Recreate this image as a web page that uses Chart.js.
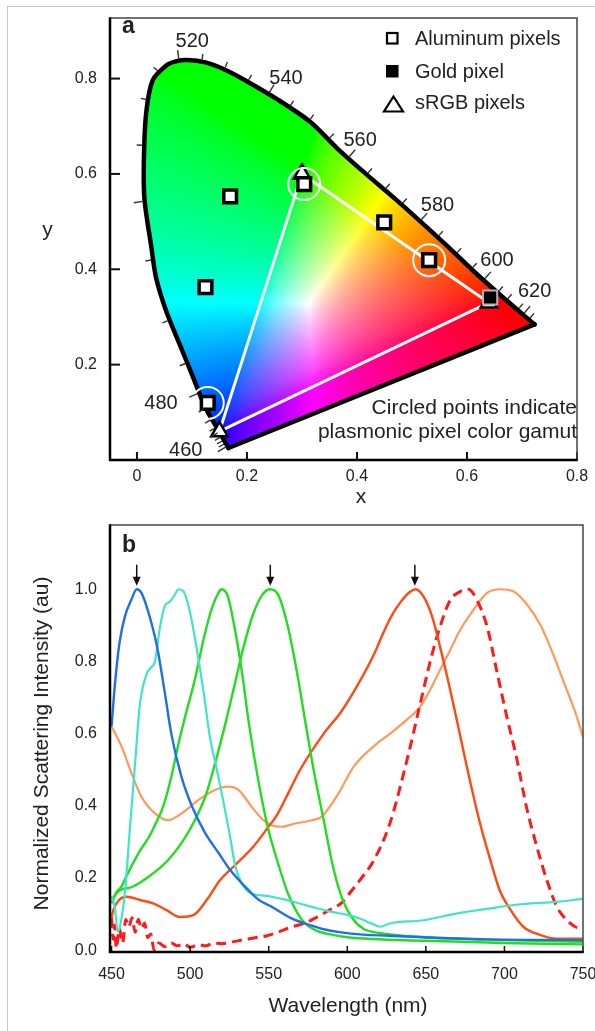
<!DOCTYPE html>
<html>
<head>
<meta charset="utf-8">
<script src="https://cdn.jsdelivr.net/npm/chart.js@4.4.1/dist/chart.umd.min.js"></script>
<style>
  html, body { margin: 0; padding: 0; background: #fff; }
  #wrap { position: relative; width: 595px; height: 1031px; overflow: hidden; }
  #frame { position: absolute; left: 7px; top: 6px; width: 700px; height: 1100px;
           border-left: 1px solid #c8c8c8; border-top: 1px solid #c8c8c8; }
  canvas { position: absolute; left: 0; }
  #cie { top: 0; }
  #spec { top: 512px; }
</style>
</head>
<body>
<div id="wrap">
  <div id="frame"></div>
  <canvas id="cie" width="595" height="512" style="width:595px;height:512px"></canvas>
  <canvas id="spec" width="595" height="519" style="width:595px;height:519px"></canvas>
</div>
<script>
// ---------- panel a : chromaticity diagram ----------
const locusX = [0.1664, 0.1484, 0.1246, 0.1005, 0.0766, 0.0528, 0.0348, 0.0258, 0.0138, 0.0126, 0.0169, 0.0287, 0.0528, 0.0707,
                0.0915, 0.1246, 0.1592, 0.1964, 0.2561, 0.3154, 0.3639, 0.4177, 0.4716, 0.5667, 0.6092, 0.6631, 0.7229];
const locusY = [0.0251, 0.0618, 0.1094, 0.1782, 0.2455, 0.3135, 0.3822, 0.4496, 0.5455, 0.6271, 0.7292, 0.7965, 0.8271, 0.8359,
                0.8388, 0.8339, 0.8190, 0.7965, 0.7557, 0.7088, 0.6537, 0.5986, 0.5455, 0.4460, 0.3990, 0.3435, 0.2843];

// small wavelength ticks along the locus
const locusTickNm = [440, 445, 450, 455, 460, 465, 470, 475, 480, 485, 490, 495, 500, 505, 510, 515, 520, 525, 530,
                     535, 540, 545, 550, 555, 560, 565, 570, 575, 580, 585, 590, 595, 600, 605, 610, 615, 620, 625];
const locusTickX = [0.1646, 0.1610, 0.1574, 0.1529, 0.1484, 0.1430, 0.1341, 0.1215, 0.1108, 0.0928, 0.0695, 0.0354, 0.0174,
                    0.0138, 0.0192, 0.0407, 0.0766, 0.1179, 0.1592, 0.2005, 0.2382, 0.2741, 0.3082, 0.3441, 0.3818, 0.4159,
                    0.4482, 0.4787, 0.5128, 0.5434, 0.5721, 0.6008, 0.6260, 0.6511, 0.6690, 0.6906, 0.7014, 0.7121];
const locusTickY = [0.0292, 0.0353, 0.0414, 0.0486, 0.0578, 0.0680, 0.0843, 0.1067, 0.1394, 0.2047, 0.2986, 0.4210, 0.5435,
                    0.6598, 0.7557, 0.8129, 0.8353, 0.8353, 0.8190, 0.7925, 0.7659, 0.7353, 0.7027, 0.6680, 0.6312, 0.5965,
                    0.5639, 0.5333, 0.4986, 0.4639, 0.4231, 0.3924, 0.3720, 0.3455, 0.3312, 0.3129, 0.3047, 0.2945];

const aluminumX = [0.1694, 0.1246, 0.1287, 0.3041, 0.4495, 0.5313];
const aluminumY = [0.5531, 0.3624, 0.1196, 0.5788, 0.4986, 0.4190];
const circledX = [0.1287, 0.3041, 0.5313];
const circledY = [0.1196, 0.5788, 0.4190];
const goldX = [0.6421];
const goldY = [0.3408];
const srgbX = [0.64, 0.30, 0.15];
const srgbY = [0.33, 0.60, 0.06];

const cieXTicks = [0, 0.2, 0.4, 0.6, 0.8];
const cieYTicks = [0.2, 0.4, 0.6, 0.8];

// ---------- panel b : scattering spectra ----------
const wlTicks = [450, 500, 550, 600, 650, 700, 750];
const intensityTicks = [0, 0.2, 0.4, 0.6, 0.8, 1.0];

const blueNm = [450, 452, 455, 458.5, 462.5, 466, 469, 473.5, 479, 484, 488, 494.5, 501, 509.5, 518, 525.5, 535, 543.5, 552,
                564.5, 577.5, 585, 595, 610, 627, 650, 690, 750];
const blueI = [0.62, 0.73, 0.85, 0.925, 0.97, 1.0, 0.99, 0.935, 0.84, 0.71, 0.60, 0.48, 0.40, 0.325, 0.27, 0.222, 0.176, 0.14,
               0.12, 0.088, 0.068, 0.058, 0.05, 0.043, 0.04, 0.035, 0.03, 0.028];

const cyanNm = [450, 452, 454, 456, 458.5, 461.7, 465, 468, 472.3, 475.5, 477.6, 480.8, 484, 487, 490.3, 492.5, 495.6, 500, 504,
                508.4, 512.6, 517, 521, 525.4, 528.6, 532.8, 539, 545.5, 552, 560.4, 569, 577.4, 590, 600, 608, 615, 621, 627,
                648.5, 670, 691, 712, 733, 744, 750];
const cyanI = [0.15, 0.12, 0.05, 0.08, 0.16, 0.34, 0.52, 0.68, 0.765, 0.785, 0.80, 0.895, 0.955, 0.965, 0.985, 1.0, 0.995, 0.935,
               0.84, 0.72, 0.59, 0.50, 0.415, 0.315, 0.235, 0.185, 0.157, 0.152, 0.148, 0.14, 0.13, 0.12, 0.106, 0.098, 0.088,
               0.075, 0.065, 0.074, 0.083, 0.102, 0.116, 0.128, 0.134, 0.139, 0.143];

const green1Nm = [450, 453, 456, 460, 468, 474, 478, 483, 488, 493, 497, 503, 509, 514, 518, 520, 524, 528, 533, 537, 541, 546,
                  550, 556, 562, 568, 573, 580, 590, 600, 650, 700, 750];
const green1I = [0.13, 0.16, 0.175, 0.21, 0.275, 0.315, 0.35, 0.40, 0.48, 0.58, 0.65, 0.75, 0.87, 0.95, 0.99, 1.0, 0.98, 0.90,
                 0.77, 0.64, 0.53, 0.41, 0.33, 0.24, 0.16, 0.105, 0.075, 0.055, 0.043, 0.036, 0.026, 0.02, 0.016];

const green2Nm = [450, 455, 463, 474, 485, 495, 503, 510, 516, 522, 528, 534, 540, 546, 551, 556, 562, 568, 573, 579, 585, 591,
                  597, 603, 610, 620, 650, 700, 750];
const green2I = [0.14, 0.165, 0.175, 0.205, 0.245, 0.30, 0.36, 0.43, 0.52, 0.62, 0.73, 0.84, 0.93, 0.985, 1.0, 0.985, 0.90,
                 0.77, 0.64, 0.49, 0.36, 0.23, 0.14, 0.09, 0.06, 0.048, 0.036, 0.028, 0.023];

const redNm = [450, 451, 455, 459.5, 468, 476.5, 485, 493.5, 502, 510.5, 519, 527.5, 540, 549, 556, 563, 570, 585, 596, 606,
               617, 623, 628, 634, 640, 643.5, 648.5, 654, 659, 665.5, 672, 678, 684.5, 691, 697, 704, 712, 723, 733, 750];
const redI = [0.09, 0.11, 0.14, 0.148, 0.139, 0.13, 0.111, 0.092, 0.097, 0.139, 0.194, 0.231, 0.286, 0.337, 0.38, 0.44, 0.50,
              0.60, 0.66, 0.73, 0.82, 0.88, 0.925, 0.965, 0.993, 1.0, 0.98, 0.924, 0.841, 0.721, 0.591, 0.471, 0.351, 0.25,
              0.166, 0.111, 0.065, 0.042, 0.032, 0.032];

const dashNm = [450, 451, 452, 453, 455, 457, 459, 461, 463, 465, 467, 469, 471, 473, 475, 477, 480, 484, 488, 492, 496, 500,
                505, 510, 515, 520, 527, 535, 542, 549, 556, 565, 573, 580, 590, 596, 603, 608, 617, 627, 638, 646, 653, 659,
                665.5, 672, 677, 682.5, 689, 695, 701.5, 708, 714, 720.6, 727, 733.4, 739.8, 745, 750];
const dashI = [0.09, 0.03, 0.07, 0.005, 0.06, 0.02, 0.085, 0.065, 0.09, 0.05, 0.085, 0.06, 0.075, 0.035, 0.045, 0.0, 0.02,
               0.01, 0.02, 0.012, 0.018, 0.008, 0.015, 0.012, 0.02, 0.018, 0.023, 0.03, 0.035, 0.04, 0.05, 0.065, 0.075, 0.09,
               0.115, 0.13, 0.166, 0.194, 0.25, 0.35, 0.527, 0.675, 0.804, 0.896, 0.97, 0.994, 1.0, 0.97, 0.896, 0.776, 0.647,
               0.527, 0.397, 0.287, 0.194, 0.12, 0.083, 0.065, 0.06];

const orangeNm = [450, 456.4, 462.7, 469, 477.6, 486, 494.6, 505.2, 515.8, 524.3, 530.7, 539.2, 545.5, 551.9, 558.3, 566.8,
                  577.4, 583.7, 594.4, 604, 616.6, 627.2, 637.8, 646.4, 652.7, 659, 665.5, 671.8, 680.3, 688.8, 697.3,
                  705.8, 714, 723, 731, 738, 745, 750];
const orangeI = [0.62, 0.564, 0.49, 0.425, 0.379, 0.36, 0.379, 0.416, 0.444, 0.453, 0.444, 0.397, 0.365, 0.346, 0.342, 0.351,
                 0.36, 0.37, 0.434, 0.508, 0.564, 0.60, 0.638, 0.675, 0.721, 0.776, 0.832, 0.887, 0.943, 0.989, 1.0, 0.994,
                 0.96, 0.90, 0.82, 0.74, 0.66, 0.59];

const arrowNm = [466, 551, 643];

// ---------- shared bits ----------
const FONT = "'Liberation Sans', Arial, Helvetica, sans-serif";
const INK = '#222';
Chart.defaults.font.family = FONT;
Chart.defaults.color = INK;

const pts = (xs, ys) => xs.map((v, i) => ({ x: v, y: ys[i] }));

function text(ctx, s, x, y, size, align, base, bold) {
  ctx.save();
  ctx.font = (bold ? 'bold ' : '') + size + 'px ' + FONT;
  ctx.fillStyle = INK;
  ctx.textAlign = align || 'center';
  ctx.textBaseline = base || 'middle';
  ctx.fillText(s, x, y);
  ctx.restore();
}

// frame: thick left/bottom axes, thin top/right border, inward tick marks
function framePlugin(xTick, yTick) {
  return {
    id: 'frame',
    afterDraw(chart) {
      const { ctx, chartArea: a, scales } = chart;
      ctx.save();
      ctx.strokeStyle = '#111';
      if (xTick) {
        ctx.lineWidth = xTick.w;
        scales.x.ticks.forEach(t => {
          const px = scales.x.getPixelForValue(t.value);
          ctx.beginPath(); ctx.moveTo(px, a.bottom); ctx.lineTo(px, a.bottom - xTick.len); ctx.stroke();
        });
      }
      if (yTick) {
        ctx.lineWidth = yTick.w;
        scales.y.ticks.forEach(t => {
          const py = scales.y.getPixelForValue(t.value);
          ctx.beginPath(); ctx.moveTo(a.left, py); ctx.lineTo(a.left + yTick.len, py); ctx.stroke();
        });
      }
      ctx.strokeStyle = '#444';
      ctx.lineWidth = 1.5;
      ctx.beginPath();
      ctx.moveTo(a.left, a.top); ctx.lineTo(a.right, a.top); ctx.lineTo(a.right, a.bottom);
      ctx.stroke();
      ctx.strokeStyle = '#000';
      ctx.lineWidth = 2.5;
      ctx.beginPath();
      ctx.moveTo(a.left, a.top - 0.75); ctx.lineTo(a.left, a.bottom); ctx.lineTo(a.right + 0.75, a.bottom);
      ctx.stroke();
      ctx.restore();
    }
  };
}

// ---------- panel a ----------
function chromaColor(cx, cy) {
  cy = Math.max(cy, 0.002);
  const X = cx / cy, Z = (1 - cx - cy) / cy;
  let r = 3.2406 * X - 1.5372 - 0.4986 * Z;
  let g = -0.9689 * X + 1.8758 + 0.0415 * Z;
  let b = 0.0557 * X - 0.2040 + 1.0570 * Z;
  r = Math.max(r, 0); g = Math.max(g, 0); b = Math.max(b, 0);
  const m = Math.max(r, g, b) || 1;
  return [r / m, g / m, b / m].map(c => Math.round(255 * Math.pow(c, 1 / 1.6)));
}

const LOCUS = 5;
let fillCache = null;

const cieFill = {
  id: 'cieFill',
  beforeDatasetsDraw(chart) {
    const { ctx, chartArea: a, scales: { x, y } } = chart;
    if (!fillCache) {
      const w = Math.ceil(a.right - a.left), h = Math.ceil(a.bottom - a.top);
      fillCache = document.createElement('canvas');
      fillCache.width = w; fillCache.height = h;
      const octx = fillCache.getContext('2d');
      const img = octx.createImageData(w, h);
      for (let j = 0; j < h; j++) {
        const cy = y.getValueForPixel(a.top + j + 0.5);
        for (let i = 0; i < w; i++) {
          const cx = x.getValueForPixel(a.left + i + 0.5);
          const c = chromaColor(cx, cy);
          const k = (j * w + i) * 4;
          img.data[k] = c[0]; img.data[k + 1] = c[1]; img.data[k + 2] = c[2]; img.data[k + 3] = 255;
        }
      }
      octx.putImageData(img, 0, 0);
    }
    const line = chart.getDatasetMeta(LOCUS).dataset;
    ctx.save();
    ctx.beginPath();
    try {
      line.path(ctx);
    } catch (e) {
      locusX.forEach((v, i) => {
        const px = x.getPixelForValue(v), py = y.getPixelForValue(locusY[i]);
        i ? ctx.lineTo(px, py) : ctx.moveTo(px, py);
      });
    }
    ctx.closePath();
    ctx.clip();
    ctx.drawImage(fillCache, a.left, a.top);
    ctx.restore();
  }
};

const cieDecor = {
  id: 'cieDecor',
  afterDraw(chart) {
    const { ctx, scales: { x, y } } = chart;
    // wavelength ticks, pushed outward from the locus outline
    const P = locusX.map((v, i) => [x.getPixelForValue(v), y.getPixelForValue(locusY[i])]);
    const cx0 = x.getPixelForValue(0.33), cy0 = y.getPixelForValue(0.33);
    ctx.save();
    ctx.strokeStyle = '#333';
    ctx.lineWidth = 1.4;
    locusTickNm.forEach((nm, k) => {
      const tx = x.getPixelForValue(locusTickX[k]), ty = y.getPixelForValue(locusTickY[k]);
      let best = null;
      for (let i = 0; i < P.length - 1; i++) {
        const [ax, ay] = P[i], [bx, by] = P[i + 1];
        const dx = bx - ax, dy = by - ay, L2 = dx * dx + dy * dy;
        let t = ((tx - ax) * dx + (ty - ay) * dy) / L2;
        t = Math.max(0, Math.min(1, t));
        const qx = ax + t * dx, qy = ay + t * dy;
        const d = (qx - tx) ** 2 + (qy - ty) ** 2;
        if (!best || d < best.d) best = { d, qx, qy, dx, dy };
      }
      const L = Math.hypot(best.dx, best.dy);
      let nx = -best.dy / L, ny = best.dx / L;
      if ((best.qx - cx0) * nx + (best.qy - cy0) * ny < 0) { nx = -nx; ny = -ny; }
      const len = nm % 20 === 0 ? 9 : 6;
      ctx.beginPath();
      ctx.moveTo(best.qx + nx * 2, best.qy + ny * 2);
      ctx.lineTo(best.qx + nx * (2 + len), best.qy + ny * (2 + len));
      ctx.stroke();
    });
    ctx.restore();

    // wavelength labels
    [['520', 0.1005, 0.8767], ['540', 0.2710, 0.8000], ['560', 0.4057, 0.6706], ['580', 0.5464, 0.5347],
     ['600', 0.6546, 0.4190], ['620', 0.7229, 0.3537], ['480', 0.0438, 0.1176], ['460', 0.0887, 0.0196]]
      .forEach(([s, vx, vy]) => text(ctx, s, x.getPixelForValue(vx), y.getPixelForValue(vy), 20));

    // legend
    ctx.save();
    ctx.strokeStyle = '#000';
    ctx.lineWidth = 2.2;
    ctx.fillStyle = '#fff';
    ctx.fillRect(387, 33, 10.5, 10.5); ctx.strokeRect(387, 33, 10.5, 10.5);
    ctx.fillStyle = '#000';
    ctx.fillRect(386, 65, 12.5, 12.5);
    ctx.beginPath(); ctx.moveTo(393.5, 96.5); ctx.lineTo(403, 111.5); ctx.lineTo(384, 111.5); ctx.closePath();
    ctx.fillStyle = '#fff'; ctx.fill(); ctx.stroke();
    ctx.restore();
    text(ctx, 'Aluminum pixels', 415, 45, 20, 'left', 'alphabetic');
    text(ctx, 'Gold pixel', 415, 78, 20, 'left', 'alphabetic');
    text(ctx, 'sRGB pixels', 415, 108.5, 20, 'left', 'alphabetic');

    text(ctx, 'Circled points indicate', 577, 414, 21, 'right', 'alphabetic');
    text(ctx, 'plasmonic pixel color gamut', 577, 437.5, 21, 'right', 'alphabetic');

    text(ctx, 'a', 122, 33, 23, 'left', 'alphabetic', true);
    text(ctx, 'y', 47.5, 230, 21);
    text(ctx, 'x', 361, 497, 21);
  }
};

new Chart(document.getElementById('cie'), {
  type: 'scatter',
  data: {
    datasets: [
      { data: pts(circledX, circledY), order: 0, pointStyle: 'circle', pointRadius: 16,
        pointBackgroundColor: 'rgba(0,0,0,0)', pointBorderColor: '#fff', pointBorderWidth: 2 },
      { data: pts(goldX, goldY), order: 1, pointStyle: 'rect', pointRadius: 10,
        pointBackgroundColor: '#000', pointBorderColor: '#b4b4b4', pointBorderWidth: 2 },
      { data: pts(aluminumX, aluminumY), order: 2, pointStyle: 'rect', pointRadius: 9,
        pointBackgroundColor: '#fff', pointBorderColor: '#000', pointBorderWidth: 3.5 },
      { data: pts(srgbX, srgbY), order: 3, pointStyle: 'triangle', pointRadius: 9.5,
        pointBackgroundColor: '#fff', pointBorderColor: '#000', pointBorderWidth: 2.5 },
      { data: pts(srgbX.concat(srgbX[0]), srgbY.concat(srgbY[0])), order: 4, showLine: true,
        borderColor: '#fff', borderWidth: 3, pointRadius: 0, tension: 0 },
      { data: pts(locusX, locusY), order: 5, showLine: true, borderColor: '#000', borderWidth: 4.5,
        borderCapStyle: 'round', borderJoinStyle: 'round', pointRadius: 0, tension: 0.3 },
      { data: pts([locusX[locusX.length - 1], locusX[0]], [locusY[locusY.length - 1], locusY[0]]), order: 6,
        showLine: true, borderColor: '#000', borderWidth: 4.5, borderCapStyle: 'round', pointRadius: 0, tension: 0 }
    ]
  },
  options: {
    responsive: false,
    animation: false,
    devicePixelRatio: 1,
    layout: { padding: { left: 0, top: 6, right: 12, bottom: 0 } },
    plugins: { legend: { display: false }, tooltip: { enabled: false } },
    scales: {
      x: {
        type: 'linear', min: -0.049, max: 0.8,
        afterBuildTicks: s => { s.ticks = cieXTicks.map(v => ({ value: v })); },
        afterFit: s => { s.height = 52; s.paddingLeft = 0; s.paddingRight = 0; },
        grid: { display: false, drawTicks: false }, border: { display: false },
        ticks: { padding: 7, color: INK, font: { size: 16 }, autoSkip: false, maxRotation: 0,
                 callback: v => String(v) }
      },
      y: {
        type: 'linear', min: 0, max: 0.927,
        afterBuildTicks: s => { s.ticks = cieYTicks.map(v => ({ value: v })); },
        afterFit: s => { s.width = 110; s.paddingTop = 0; s.paddingBottom = 0; },
        grid: { display: false, drawTicks: false }, border: { display: false },
        ticks: { padding: 13, color: INK, font: { size: 16 }, autoSkip: false,
                 callback: v => String(v) }
      }
    }
  },
  plugins: [cieFill, framePlugin({ len: 8, w: 2 }, { len: 10, w: 2 }), cieDecor]
});

// ---------- panel b ----------
function series(nm, val, color, width, dash) {
  return {
    data: pts(nm, val), showLine: true, borderColor: color, borderWidth: width, borderDash: dash || [],
    pointRadius: 0, tension: 0.4, cubicInterpolationMode: 'monotone', fill: false
  };
}

const specDecor = {
  id: 'specDecor',
  afterDraw(chart) {
    const { ctx, scales: { x, y } } = chart;
    ctx.save();
    ctx.strokeStyle = '#111';
    ctx.fillStyle = '#111';
    ctx.lineWidth = 1.5;
    arrowNm.forEach(nm => {
      const px = x.getPixelForValue(nm);
      const top = y.getPixelForValue(1.068), tip = y.getPixelForValue(1.01);
      ctx.beginPath(); ctx.moveTo(px, top); ctx.lineTo(px, tip - 7); ctx.stroke();
      ctx.beginPath(); ctx.moveTo(px - 4, tip - 9); ctx.lineTo(px + 4, tip - 9); ctx.lineTo(px, tip); ctx.closePath(); ctx.fill();
    });
    ctx.restore();
    text(ctx, 'b', 122, 40, 23, 'left', 'alphabetic', true);
    text(ctx, 'Wavelength (nm)', 348, 500, 21, 'center', 'alphabetic');
    ctx.save();
    ctx.translate(42, 231.5);
    ctx.rotate(-Math.PI / 2);
    text(ctx, 'Normalized Scattering Intensity (au)', 0, 0, 21);
    ctx.restore();
  }
};

new Chart(document.getElementById('spec'), {
  type: 'scatter',
  data: {
    datasets: [
      series(blueNm, blueI, '#1f6fe8', 2.4),
      series(cyanNm, cyanI, '#3fe6c6', 2.2),
      series(green1Nm, green1I, '#22dd22', 2.4),
      series(green2Nm, green2I, '#22dd22', 2.4),
      series(redNm, redI, '#ff4a12', 2.4),
      series(dashNm, dashI, '#ff1a1a', 3, [10, 6]),
      series(orangeNm, orangeI, '#ff9a5c', 2.2)
    ]
  },
  options: {
    responsive: false,
    animation: false,
    devicePixelRatio: 1,
    layout: { padding: { left: 0, top: 13, right: 12, bottom: 0 } },
    plugins: { legend: { display: false }, tooltip: { enabled: false } },
    scales: {
      x: {
        type: 'linear', min: 449, max: 750,
        afterBuildTicks: s => { s.ticks = wlTicks.map(v => ({ value: v })); },
        afterFit: s => { s.height = 79; s.paddingLeft = 0; s.paddingRight = 0; },
        grid: { display: false, drawTicks: false }, border: { display: false },
        ticks: { padding: 13, color: INK, font: { size: 16 }, autoSkip: false, maxRotation: 0,
                 callback: v => String(v) }
      },
      y: {
        type: 'linear', min: -0.005, max: 1.178,
        afterBuildTicks: s => { s.ticks = intensityTicks.map(v => ({ value: v })); },
        afterFit: s => { s.width = 110; s.paddingTop = 0; s.paddingBottom = 0; },
        grid: { display: false, drawTicks: false }, border: { display: false },
        ticks: { padding: 13, color: INK, font: { size: 16 }, autoSkip: false,
                 callback: v => v.toFixed(1) }
      }
    }
  },
  plugins: [framePlugin({ len: 6, w: 1.5 }, null), specDecor]
});
</script>
</body>
</html>
